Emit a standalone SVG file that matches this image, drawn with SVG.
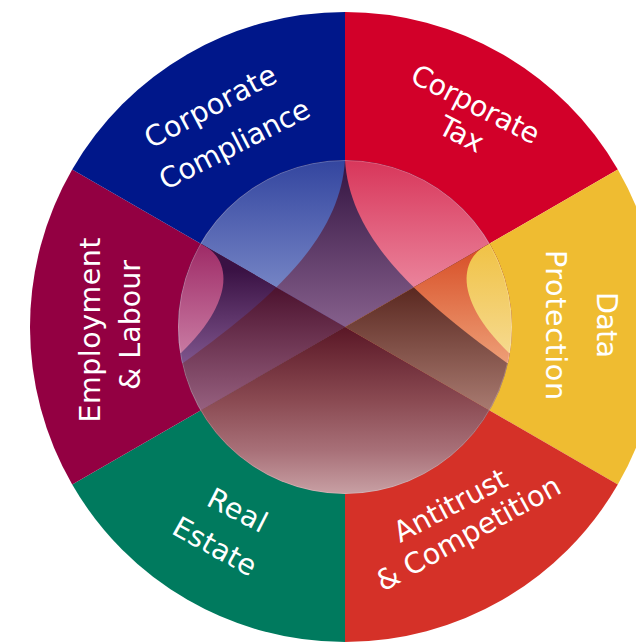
<svg xmlns="http://www.w3.org/2000/svg" width="636" height="643" viewBox="0 0 636 643">
  <style>
    .lbl { fill: #ffffff; font-family: "DejaVu Sans", "Liberation Sans", sans-serif; font-size: 28.5px; text-anchor: middle; }
  </style>
  <defs>
    <clipPath id="hubClip"><circle cx="345" cy="327" r="167"/></clipPath>
    <clipPath id="wTop"><polygon points="345,327 -1.4,127 691.4,127"/></clipPath>
    <clipPath id="wLeft"><polygon points="345,327 -1.4,127 -1.4,527"/></clipPath>
    <clipPath id="wRight"><polygon points="345,327 691.4,127 691.4,527"/></clipPath>
    <clipPath id="wBottom"><polygon points="345,327 -1.4,527 691.4,527"/></clipPath>
    <linearGradient id="gTBlue" gradientUnits="userSpaceOnUse" x1="0" y1="160" x2="0" y2="300">
      <stop offset="0" stop-color="#33459f"/><stop offset="1" stop-color="#7b8ac8"/>
    </linearGradient>
    <linearGradient id="gTDark" gradientUnits="userSpaceOnUse" x1="0" y1="160" x2="0" y2="327">
      <stop offset="0" stop-color="#321340"/><stop offset="1" stop-color="#86608c"/>
    </linearGradient>
    <linearGradient id="gTPink" gradientUnits="userSpaceOnUse" x1="0" y1="160" x2="0" y2="300">
      <stop offset="0" stop-color="#d8365a"/><stop offset="1" stop-color="#ec8ba2"/>
    </linearGradient>
    <linearGradient id="gLLens" gradientUnits="userSpaceOnUse" x1="0" y1="243" x2="0" y2="353">
      <stop offset="0" stop-color="#9e2a66"/><stop offset="1" stop-color="#c87aa2"/>
    </linearGradient>
    <linearGradient id="gLBand" gradientUnits="userSpaceOnUse" x1="0" y1="270" x2="0" y2="362">
      <stop offset="0" stop-color="#3a1244"/><stop offset="1" stop-color="#7e548c"/>
    </linearGradient>
    <linearGradient id="gLDark" gradientUnits="userSpaceOnUse" x1="0" y1="290" x2="0" y2="410">
      <stop offset="0" stop-color="#4e1430"/><stop offset="1" stop-color="#96607f"/>
    </linearGradient>
    <linearGradient id="gRLens" gradientUnits="userSpaceOnUse" x1="0" y1="243" x2="0" y2="357">
      <stop offset="0" stop-color="#f0c245"/><stop offset="1" stop-color="#f6da90"/>
    </linearGradient>
    <linearGradient id="gROrange" gradientUnits="userSpaceOnUse" x1="0" y1="250" x2="0" y2="365">
      <stop offset="0" stop-color="#d85028"/><stop offset="1" stop-color="#eea078"/>
    </linearGradient>
    <linearGradient id="gRBrown" gradientUnits="userSpaceOnUse" x1="0" y1="290" x2="0" y2="410">
      <stop offset="0" stop-color="#5c2a22"/><stop offset="1" stop-color="#a87a70"/>
    </linearGradient>
    <linearGradient id="gBottom" gradientUnits="userSpaceOnUse" x1="0" y1="327" x2="0" y2="494">
      <stop offset="0" stop-color="#5a1726"/><stop offset="0.44" stop-color="#8a4a52"/>
      <stop offset="0.74" stop-color="#a87078"/><stop offset="1" stop-color="#c8a0a4"/>
    </linearGradient>
  </defs>

  <rect width="636" height="643" fill="#ffffff"/>

  <g id="corporate-tax">
    <path d="M345,327 L345,12 A315,315 0 0 1 617.8,169.5 Z" fill="#d20029"/>
    <text class="lbl" transform="translate(471,113) rotate(27)" textLength="140" lengthAdjust="spacing">Corporate</text>
    <text class="lbl" transform="translate(457,143) rotate(27)" textLength="46" lengthAdjust="spacing">Tax</text>
  </g>
  <g id="data-protection">
    <path d="M345,327 L617.8,169.5 A315,315 0 0 1 617.8,484.5 Z" fill="#efbc31"/>
    <text class="lbl" transform="translate(597,325) rotate(90)" textLength="66" lengthAdjust="spacing">Data</text>
    <text class="lbl" transform="translate(546,325) rotate(90)" textLength="150" lengthAdjust="spacing">Protection</text>
  </g>
  <g id="antitrust-competition">
    <path d="M345,327 L617.8,484.5 A315,315 0 0 1 345,642 Z" fill="#d53128"/>
    <text class="lbl" transform="translate(455,514) rotate(-28)" textLength="124" lengthAdjust="spacing">Antitrust</text>
    <text class="lbl" transform="translate(473,542) rotate(-29)" textLength="206" lengthAdjust="spacing">&amp; Competition</text>
  </g>
  <g id="real-estate">
    <path d="M345,327 L345,642 A315,315 0 0 1 72.2,484.5 Z" fill="#007a5e"/>
    <text class="lbl" transform="translate(233,519) rotate(27)" textLength="63" lengthAdjust="spacing">Real</text>
    <text class="lbl" transform="translate(210,555) rotate(29)" textLength="91" lengthAdjust="spacing">Estate</text>
  </g>
  <g id="employment-labour">
    <path d="M345,327 L72.2,484.5 A315,315 0 0 1 72.2,169.5 Z" fill="#930042"/>
    <text class="lbl" transform="translate(100,330) rotate(-90)" textLength="185" lengthAdjust="spacing">Employment</text>
    <text class="lbl" transform="translate(140,325) rotate(-90)" textLength="130" lengthAdjust="spacing">&amp; Labour</text>
  </g>
  <g id="corporate-compliance">
    <path d="M345,327 L72.2,169.5 A315,315 0 0 1 345,12 Z" fill="#00178a"/>
    <text class="lbl" transform="translate(215,115) rotate(-28)" textLength="145" lengthAdjust="spacing">Corporate</text>
    <text class="lbl" transform="translate(239,153) rotate(-27)" textLength="165" lengthAdjust="spacing">Compliance</text>
  </g>

  <g id="hub" clip-path="url(#hubClip)">
    <g clip-path="url(#wTop)">
      <rect x="150" y="120" width="400" height="220" fill="url(#gTDark)"/>
      <path d="M345,150 L345,160 C340,240 270,300 183,363 L100,363 L100,100 L345,100 Z" fill="url(#gTBlue)"/>
      <path d="M345,150 L345,160 C350,240 420,300 507,363 L600,363 L600,100 L345,100 Z" fill="url(#gTPink)"/>
    </g>
    <g clip-path="url(#wLeft)">
      <rect x="150" y="200" width="200" height="250" fill="url(#gLDark)"/>
      <path d="M345,150 L345,160 C340,240 270,300 183,363 L100,363 L100,100 L345,100 Z" fill="url(#gLBand)"/>
      <path d="M200.4,243.5 C232,258 236,300 181,353 L100,353 L100,243.5 Z" fill="url(#gLLens)"/>
    </g>
    <g clip-path="url(#wRight)">
      <rect x="340" y="200" width="200" height="250" fill="url(#gRBrown)"/>
      <path d="M345,150 L345,160 C350,240 420,300 507,363 L600,363 L600,100 L345,100 Z" fill="url(#gROrange)"/>
      <path d="M489.6,243.5 C458,258 454,300 509,353 L600,353 L600,243.5 Z" fill="url(#gRLens)"/>
    </g>
    <g clip-path="url(#wBottom)">
      <rect x="150" y="320" width="400" height="200" fill="url(#gBottom)"/>
    </g>
    <circle cx="345" cy="327" r="166.5" fill="none" stroke="#ffffff" stroke-opacity="0.2" stroke-width="1"/>
  </g>

  <g id="connectors"/>
</svg>
